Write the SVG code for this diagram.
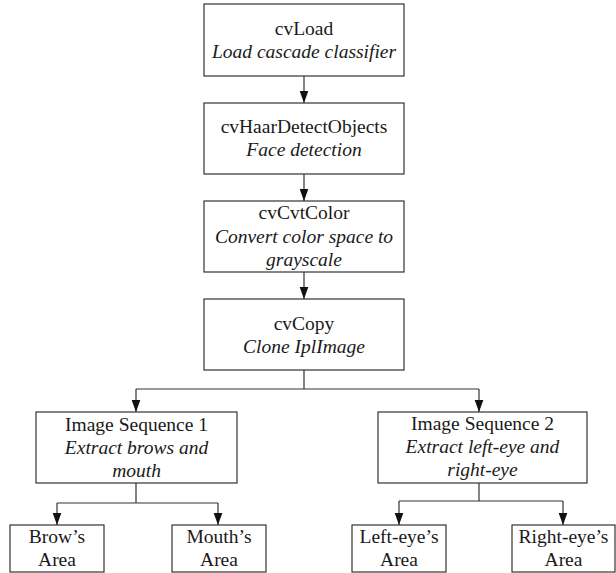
<svg xmlns="http://www.w3.org/2000/svg" width="616" height="573" viewBox="0 0 616 573">
<style>
.box{fill:#fff;stroke:#333;stroke-width:1.2}
.t{font-family:"Liberation Serif","Times New Roman",serif;font-size:19.5px;fill:#1a1a1a;text-anchor:middle}
.i{font-style:italic}
.c{fill:none;stroke:#333;stroke-width:1.2}
</style>
<defs>
<marker id="ah" markerUnits="userSpaceOnUse" markerWidth="13" markerHeight="10" refX="12.5" refY="4.5" orient="auto">
<path d="M0,0 L12.5,4.5 L0,9 z" fill="#111"/>
</marker>
</defs>
<g id="connectors">
<path class="c" d="M304,76 V103" marker-end="url(#ah)"/>
<path class="c" d="M304,174 V201" marker-end="url(#ah)"/>
<path class="c" d="M304,272 V299" marker-end="url(#ah)"/>
<path class="c" d="M304,370 V389 M136,389 H479"/>
<path class="c" d="M136,389 V412" marker-end="url(#ah)"/>
<path class="c" d="M479,389 V412" marker-end="url(#ah)"/>
<path class="c" d="M136,483 V503 M57,503 H218"/>
<path class="c" d="M57,503 V525" marker-end="url(#ah)"/>
<path class="c" d="M218,503 V525" marker-end="url(#ah)"/>
<path class="c" d="M479,483 V501 M399,501 H563"/>
<path class="c" d="M399,501 V525" marker-end="url(#ah)"/>
<path class="c" d="M563,501 V525" marker-end="url(#ah)"/>
</g>
<g id="n1"><rect class="box" x="204" y="4" width="200" height="72"/>
<text class="t" x="304" y="35">cvLoad</text><text class="t i" x="304" y="58">Load cascade classifier</text></g>
<g id="n2"><rect class="box" x="204" y="103" width="200" height="71"/>
<text class="t" x="304" y="133">cvHaarDetectObjects</text><text class="t i" x="304" y="156">Face detection</text></g>
<g id="n3"><rect class="box" x="204" y="201" width="200" height="71"/>
<text class="t" x="304" y="219">cvCvtColor</text><text class="t i" x="304" y="242.5">Convert color space to</text><text class="t i" x="304" y="265.5">grayscale</text></g>
<g id="n4"><rect class="box" x="204" y="299" width="200" height="71"/>
<text class="t" x="304" y="330">cvCopy</text><text class="t i" x="304" y="353">Clone IplImage</text></g>
<g id="n5"><rect class="box" x="36" y="412" width="201" height="71"/>
<text class="t" x="136.5" y="431">Image Sequence 1</text><text class="t i" x="136.5" y="454">Extract brows and</text><text class="t i" x="136.5" y="477">mouth</text></g>
<g id="n6"><rect class="box" x="378" y="412" width="209" height="71"/>
<text class="t" x="482.5" y="430">Image Sequence 2</text><text class="t i" x="482.5" y="453">Extract left-eye and</text><text class="t i" x="482.5" y="476">right-eye</text></g>
<g id="n7"><rect class="box" x="10" y="525" width="94" height="47"/>
<text class="t" x="57" y="543">Brow’s</text><text class="t" x="57" y="566">Area</text></g>
<g id="n8"><rect class="box" x="172" y="525" width="94" height="47"/>
<text class="t" x="219" y="543">Mouth’s</text><text class="t" x="219" y="566">Area</text></g>
<g id="n9"><rect class="box" x="352" y="525" width="94" height="47"/>
<text class="t" x="399" y="543">Left-eye’s</text><text class="t" x="399" y="566">Area</text></g>
<g id="n10"><rect class="box" x="512" y="525" width="103" height="47"/>
<text class="t" x="563.5" y="543">Right-eye’s</text><text class="t" x="563.5" y="566">Area</text></g>
</svg>
